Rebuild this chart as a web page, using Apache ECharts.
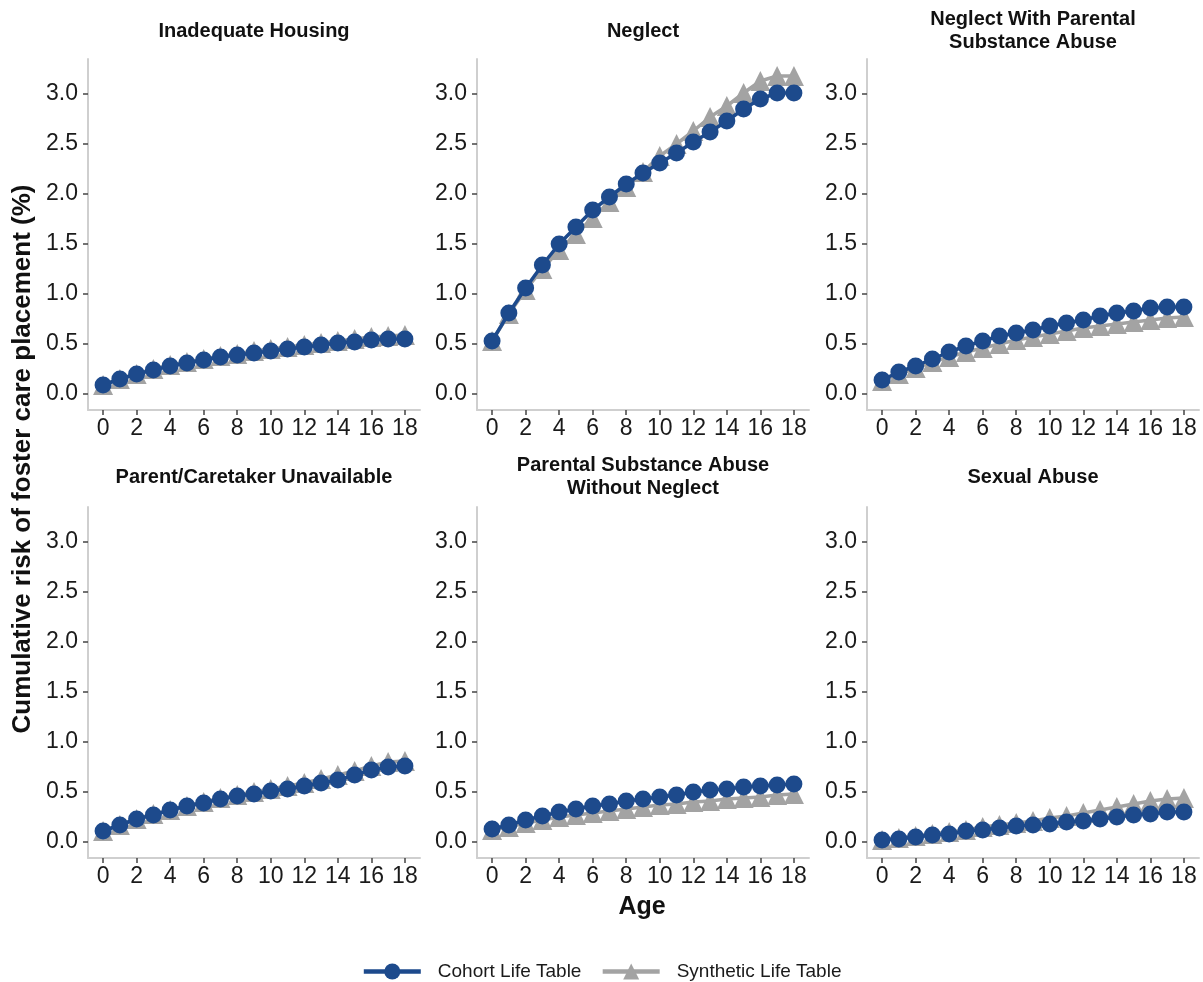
<!DOCTYPE html>
<html>
<head>
<meta charset="utf-8">
<script src="https://cdn.jsdelivr.net/npm/echarts@6/dist/echarts.min.js"></script>
<style>
  html, body { margin: 0; padding: 0; background: #ffffff; }
  #chart { width: 1203px; height: 982px; }
</style>
</head>
<body>
<div id="chart"></div>
<script>
// Age in years (x axis)
const ages = [0,1,2,3,4,5,6,7,8,9,10,11,12,13,14,15,16,17,18];

// Panel titles, in reading order
const panelTitles = [
  'Inadequate Housing',
  'Neglect',
  'Neglect With Parental\nSubstance Abuse',
  'Parent/Caretaker Unavailable',
  'Parental Substance Abuse\nWithout Neglect',
  'Sexual Abuse'
];

// Cumulative risk of foster care placement (%), cohort life table
const cohortHousing   = [0.09,0.15,0.20,0.24,0.28,0.31,0.34,0.37,0.39,0.41,0.43,0.45,0.47,0.49,0.51,0.52,0.54,0.55,0.55];
const cohortNeglect   = [0.53,0.81,1.06,1.29,1.50,1.67,1.84,1.97,2.10,2.21,2.31,2.41,2.52,2.62,2.73,2.85,2.95,3.01,3.01];
const cohortNeglectPSA= [0.14,0.22,0.28,0.35,0.42,0.48,0.53,0.58,0.61,0.64,0.68,0.71,0.74,0.78,0.81,0.83,0.86,0.87,0.87];
const cohortCaretaker = [0.11,0.17,0.23,0.27,0.32,0.36,0.39,0.43,0.46,0.48,0.51,0.53,0.56,0.59,0.62,0.67,0.72,0.75,0.76];
const cohortPSA       = [0.13,0.17,0.22,0.26,0.30,0.33,0.36,0.38,0.41,0.43,0.45,0.47,0.50,0.52,0.53,0.55,0.56,0.57,0.58];
const cohortSexual    = [0.02,0.03,0.05,0.07,0.08,0.11,0.12,0.14,0.16,0.17,0.18,0.20,0.21,0.23,0.25,0.27,0.28,0.30,0.30];

// Cumulative risk of foster care placement (%), synthetic life table
const synthHousing    = [0.09,0.15,0.20,0.25,0.29,0.32,0.35,0.38,0.40,0.43,0.45,0.47,0.49,0.51,0.53,0.55,0.57,0.58,0.59];
const synthNeglect    = [0.53,0.80,1.04,1.25,1.44,1.60,1.76,1.92,2.07,2.22,2.38,2.50,2.63,2.77,2.88,3.01,3.13,3.18,3.18];
const synthNeglectPSA = [0.13,0.20,0.26,0.32,0.37,0.42,0.46,0.50,0.54,0.57,0.60,0.63,0.66,0.68,0.70,0.72,0.74,0.76,0.77];
const synthCaretaker  = [0.11,0.17,0.23,0.28,0.32,0.36,0.40,0.44,0.47,0.50,0.53,0.56,0.59,0.63,0.67,0.71,0.76,0.80,0.81];
const synthPSA        = [0.12,0.15,0.19,0.22,0.25,0.27,0.29,0.31,0.33,0.35,0.37,0.38,0.40,0.41,0.43,0.44,0.45,0.47,0.48];
const synthSexual     = [0.02,0.04,0.06,0.08,0.10,0.12,0.15,0.17,0.19,0.21,0.24,0.26,0.29,0.32,0.35,0.38,0.41,0.43,0.44];

// Tick values
const xTicks = [0,2,4,6,8,10,12,14,16,18];
const yTicks = [0,0.5,1,1.5,2,2.5,3];

const cohortSets = [cohortHousing, cohortNeglect, cohortNeglectPSA, cohortCaretaker, cohortPSA, cohortSexual];
const synthSets  = [synthHousing, synthNeglect, synthNeglectPSA, synthCaretaker, synthPSA, synthSexual];

const FONT = '"Liberation Sans", Arial, Helvetica, sans-serif';
const BLUE = '#1d4a8c';
const GREY = '#a3a3a3';

const colLeft = [88, 477, 867];
const rowTop = [59, 507];
const panelW = 332, panelH = 351;

const grids = [], xAxes = [], yAxes = [], series = [], titles = [];

panelTitles.forEach((name, i) => {
  const r = Math.floor(i / 3), c = i % 3;
  grids.push({ left: colLeft[c], top: rowTop[r], width: panelW, height: panelH, containLabel: false });
  xAxes.push({
    type: 'value', gridIndex: i, min: -0.9, max: 18.9,
    axisLine: { show: true, onZero: false, lineStyle: { color: '#cfcfcf', width: 2 } },
    axisTick: { show: true, length: 5, customValues: xTicks, lineStyle: { color: '#444', width: 1.5 } },
    axisLabel: { show: true, customValues: xTicks, margin: 7, fontSize: 23, color: '#1a1a1a', fontFamily: FONT },
    splitLine: { show: false }
  });
  yAxes.push({
    type: 'value', gridIndex: i, min: -0.16, max: 3.35,
    axisLine: { show: true, onZero: false, lineStyle: { color: '#cfcfcf', width: 2 } },
    axisTick: { show: true, length: 5, customValues: yTicks, lineStyle: { color: '#444', width: 1.5 } },
    axisLabel: { show: true, customValues: yTicks, margin: 10, fontSize: 23, color: '#1a1a1a', fontFamily: FONT,
                 formatter: v => v.toFixed(1) },
    splitLine: { show: false }
  });
  const cx = colLeft[c] + panelW / 2;
  titles.push({
    text: name, left: cx, top: r === 0 ? 31 : 477, textAlign: 'center', textVerticalAlign: 'middle', padding: 0,
    textStyle: { fontSize: 20, fontWeight: 'bold', color: '#111', fontFamily: FONT, lineHeight: 23 }
  });
  series.push({
    name: 'Synthetic Life Table', type: 'line', xAxisIndex: i, yAxisIndex: i,
    data: ages.map((a, k) => [a, synthSets[i][k]]),
    symbol: 'triangle', symbolSize: 20, z: 2,
    lineStyle: { color: GREY, width: 3.5 }, itemStyle: { color: GREY },
    emphasis: { disabled: true }, animation: false
  });
  series.push({
    name: 'Cohort Life Table', type: 'line', xAxisIndex: i, yAxisIndex: i,
    data: ages.map((a, k) => [a, cohortSets[i][k]]),
    symbol: 'circle', symbolSize: 17, z: 3,
    lineStyle: { color: BLUE, width: 3.5 }, itemStyle: { color: BLUE },
    emphasis: { disabled: true }, animation: false
  });
});

const chart = echarts.init(document.getElementById('chart'), null, { renderer: 'canvas' });
chart.setOption({
  backgroundColor: '#ffffff',
  animation: false,
  title: titles,
  grid: grids,
  xAxis: xAxes,
  yAxis: yAxes,
  series: series,
  legend: {
    data: ['Cohort Life Table', 'Synthetic Life Table'],
    left: 'center', top: 957, itemWidth: 57, itemHeight: 20, itemGap: 19,
    lineStyle: { width: 4.5 },
    textStyle: { fontSize: 19, color: '#1a1a1a', fontFamily: FONT, padding: [0, 0, 0, 12] }
  },
  graphic: [
    { type: 'text', x: 23, y: 459, rotation: Math.PI / 2,
      style: { text: 'Cumulative risk of foster care placement (%)', align: 'center', verticalAlign: 'middle',
               font: 'bold 26px ' + FONT, fill: '#111' } },
    { type: 'text', x: 642, y: 907,
      style: { text: 'Age', align: 'center', verticalAlign: 'middle', font: 'bold 25px ' + FONT, fill: '#111' } }
  ]
});
</script>
</body>
</html>
